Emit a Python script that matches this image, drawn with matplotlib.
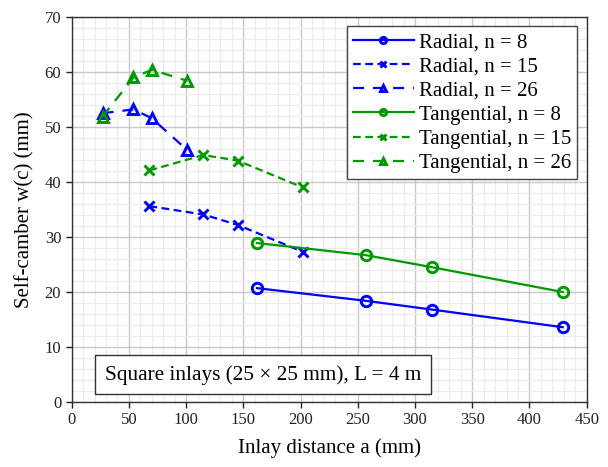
import matplotlib
matplotlib.use("Agg")
import matplotlib.pyplot as plt
from matplotlib.ticker import MultipleLocator

plt.rcParams['font.family'] = ['Liberation Serif', 'DejaVu Serif']

# Data
x_n8 = [162, 257, 315, 429]
x_n15 = [68, 115, 145, 202]
x_n26 = [27, 54, 70, 101]

radial_n8 = [20.7, 18.4, 16.8, 13.6]
radial_n15 = [35.6, 34.1, 32.2, 27.3]
radial_n26 = [52.5, 53.2, 51.6, 45.8]

tangential_n8 = [28.9, 26.7, 24.5, 20.0]
tangential_n15 = [42.1, 44.9, 43.9, 39.0]
tangential_n26 = [51.9, 59.0, 60.4, 58.4]

labels = ["Radial, n = 8", "Radial, n = 15", "Radial, n = 26",
          "Tangential, n = 8", "Tangential, n = 15", "Tangential, n = 26"]

blue = '#0000FF'
green = '#009900'

fig = plt.figure(figsize=(6.08, 4.67), dpi=100)
ax = fig.add_axes([0.1178, 0.1392, 0.8472, 0.8244])

lw = 1.6
ms = 7.5
mew = 2.1
dash15 = (0, (3.5, 2))
dash26 = (0, (5, 4))

series = [
    (x_n8, radial_n8, blue, '-', 'o'),
    (x_n15, radial_n15, blue, dash15, 'x'),
    (x_n26, radial_n26, blue, dash26, '^'),
    (x_n8, tangential_n8, green, '-', 'o'),
    (x_n15, tangential_n15, green, dash15, 'x'),
    (x_n26, tangential_n26, green, dash26, '^'),
]
for (xs, ys, c, ls, m), lab in zip(series, labels):
    ax.plot(xs, ys, color=c, linestyle=ls, linewidth=lw, marker=m,
            markersize=ms, markeredgewidth=mew, markerfacecolor='none',
            markeredgecolor=c, label=lab, zorder=3)

ax.set_xlim(0, 450)
ax.set_ylim(0, 70)
ax.xaxis.set_major_locator(MultipleLocator(50))
ax.xaxis.set_minor_locator(MultipleLocator(10))
ax.yaxis.set_major_locator(MultipleLocator(10))
ax.yaxis.set_minor_locator(MultipleLocator(2))
ax.grid(which='major', color='#c8c8c8', linewidth=1.0, zorder=0)
ax.grid(which='minor', color='#ececec', linewidth=1.0, zorder=0)
ax.set_axisbelow(True)
ax.tick_params(which='minor', length=0)
ax.tick_params(which='major', direction='out', length=4, width=1,
               labelsize=12, colors='#222222')
for s in ax.spines.values():
    s.set_color('#333333')
    s.set_linewidth(1.0)

ax.set_xlabel("Inlay distance a (mm)", fontsize=15, labelpad=7)
ax.set_ylabel("Self-camber w(c) (mm)", fontsize=15, labelpad=7)

leg = ax.legend(loc='upper right', fontsize=15, frameon=True, fancybox=False,
                edgecolor='#444444', framealpha=1, handlelength=2.9,
                labelspacing=0.22, borderaxespad=0.45, markerscale=0.6,
                handletextpad=0.25, borderpad=0.3)
leg.get_frame().set_linewidth(1.0)

ax.text(0.064, 0.071, "Square inlays (25 × 25 mm), L = 4 m", transform=ax.transAxes,
        fontsize=15.3, ha='left', va='center',
        bbox=dict(boxstyle='square,pad=0.45', facecolor='white', edgecolor='#333333', linewidth=1.0),
        zorder=5)

fig.savefig("out.png", dpi=100)
